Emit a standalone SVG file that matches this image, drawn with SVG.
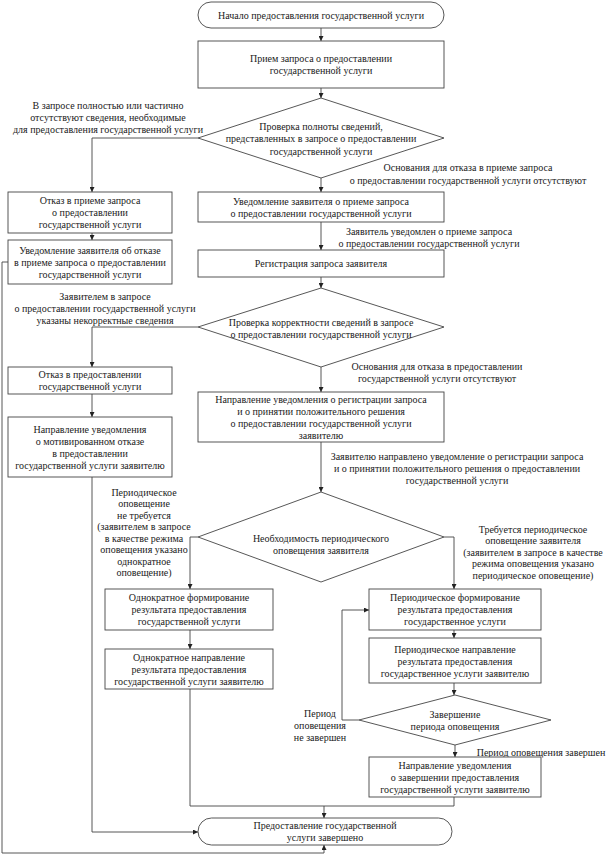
<svg xmlns="http://www.w3.org/2000/svg" width="609" height="854" viewBox="0 0 609 854">
<defs>
<marker id="ah" viewBox="0 0 6 6" refX="6" refY="3" markerWidth="5" markerHeight="5" orient="auto" markerUnits="userSpaceOnUse">
<path d="M0,0 L6,3 L0,6 z" fill="#222"/>
</marker>
<style>
.b{fill:#fff;stroke:#444;stroke-width:0.9}
.c{fill:none;stroke:#444;stroke-width:0.9}
.a{fill:none;stroke:#444;stroke-width:0.9;marker-end:url(#ah)}
text{font-family:"Liberation Serif","Times New Roman",serif;font-size:10px;fill:#1a1a1a;text-anchor:middle}
</style>
</defs>
<rect width="609" height="854" fill="#fff"/>
<g id="connectors">
<path class="a" d="M321,28 V41"/>
<path class="a" d="M321,88 V98"/>
<path class="a" d="M198,138 H92 V192"/>
<path class="a" d="M321,178 V192"/>
<path class="a" d="M92,233 V240"/>
<path class="a" d="M8,262 H2 V853 H324 V845"/>
<path class="a" d="M321,222 V250"/>
<path class="a" d="M321,277 V288"/>
<path class="a" d="M198,327 H92 V367"/>
<path class="a" d="M321,367 V392"/>
<path class="a" d="M92,394 V417"/>
<path class="a" d="M92,477 V832 H198"/>
<path class="a" d="M321,442 V492"/>
<path class="a" d="M198,537 H190 V589"/>
<path class="a" d="M444,537 H454 V589"/>
<path class="a" d="M190,630 V649"/>
<path class="c" d="M190,689 V806 H454 V797"/>
<path class="a" d="M324,806 V818"/>
<path class="a" d="M454,630 V638"/>
<path class="a" d="M454,683 V695"/>
<path class="a" d="M359,720 H342 V610 H369"/>
<path class="a" d="M455,745 V757"/>
</g>
<g id="labels">
<text x="108" y="108.5">В запросе полностью или частично</text>
<text x="108" y="120.5">отсутствуют сведения, необходимые</text>
<text x="108" y="132.5">для предоставления государственной услуги</text>
<text x="468" y="170.5">Основания для отказа в приеме запроса</text>
<text x="468" y="183.5">о предоставлении государственной услуги отсутствуют</text>
<text x="429" y="234.5">Заявитель уведомлен о приеме запроса</text>
<text x="429" y="246.5">о предоставлении государственной услуги</text>
<text x="105" y="300">Заявителем в запросе</text>
<text x="105" y="312">о предоставлении государственной услуги</text>
<text x="105" y="324">указаны некорректные сведения</text>
<text x="437" y="369.5">Основания для отказа в предоставлении</text>
<text x="437" y="381.5">государственной услуги отсутствуют</text>
<text x="457" y="459.5">Заявителю направлено уведомление о регистрации запроса</text>
<text x="457" y="471.5">и о принятии положительного решения о предоставлении</text>
<text x="457" y="483.5">государственной услуги</text>
<text x="144" y="495.5">Периодическое</text>
<text x="144" y="507">оповещение</text>
<text x="144" y="518.5">не требуется</text>
<text x="144" y="530">(заявителем в запросе</text>
<text x="144" y="541.5">в качестве режима</text>
<text x="144" y="553">оповещения указано</text>
<text x="144" y="564.5">однократное</text>
<text x="144" y="576">оповещение)</text>
<text x="533" y="532.5">Требуется периодическое</text>
<text x="533" y="544">оповещение заявителя</text>
<text x="533" y="555.5">(заявителем в запросе в качестве</text>
<text x="533" y="567">режима оповещения указано</text>
<text x="533" y="578.5">периодическое оповещение)</text>
<text x="320" y="716.5">Период</text>
<text x="320" y="728.5">оповещения</text>
<text x="320" y="740.5">не завершен</text>
<text x="541" y="755.5">Период оповещения завершен</text>
</g>
<g id="start">
<rect class="b" x="198" y="2" width="246" height="26" rx="13"/>
<text x="321" y="18.5">Начало предоставления государственной услуги</text>
</g>
<g id="receive">
<rect class="b" x="198" y="41" width="246" height="47"/>
<text x="321" y="62">Прием запроса о предоставлении</text>
<text x="321" y="74">государственной услуги</text>
</g>
<g id="check-completeness">
<polygon class="b" points="321,98 444,138 321,178 198,138"/>
<text x="321" y="129.5">Проверка полноты сведений,</text>
<text x="321" y="142">представленных в запросе о предоставлении</text>
<text x="321" y="154.5">государственной услуги</text>
</g>
<g id="refuse-receive">
<rect class="b" x="8" y="192" width="164" height="41"/>
<text x="90" y="204">Отказ в приеме запроса</text>
<text x="90" y="216">о предоставлении</text>
<text x="90" y="228">государственной услуги</text>
</g>
<g id="notify-refuse">
<rect class="b" x="8" y="240" width="164" height="44"/>
<text x="90" y="253.5">Уведомление заявителя об отказе</text>
<text x="90" y="265.5">в приеме запроса о предоставлении</text>
<text x="90" y="277.5">государственной услуги</text>
</g>
<g id="notify-receive">
<rect class="b" x="198" y="192" width="246" height="30"/>
<text x="321" y="204.5">Уведомление заявителя о приеме запроса</text>
<text x="321" y="216.5">о предоставлении государственной услуги</text>
</g>
<g id="register">
<rect class="b" x="198" y="250" width="246" height="27"/>
<text x="321" y="267">Регистрация запроса заявителя</text>
</g>
<g id="check-correctness">
<polygon class="b" points="321,288 444,327 321,367 198,327"/>
<text x="321" y="325.5">Проверка корректности сведений в запросе</text>
<text x="321" y="337.5">о предоставлении государственной услуги</text>
</g>
<g id="refuse">
<rect class="b" x="8" y="367" width="164" height="27"/>
<text x="90" y="378">Отказ в предоставлении</text>
<text x="90" y="390">государственной услуги</text>
</g>
<g id="notify-motivated">
<rect class="b" x="8" y="417" width="164" height="60"/>
<text x="90" y="432.5">Направление уведомления</text>
<text x="90" y="444.5">о мотивированном отказе</text>
<text x="90" y="456.5">в предоставлении</text>
<text x="90" y="468.5">государственной услуги заявителю</text>
</g>
<g id="notify-register">
<rect class="b" x="198" y="392" width="246" height="50"/>
<text x="321" y="402.5">Направление уведомления о регистрации запроса</text>
<text x="321" y="414.5">и о принятии положительного решения</text>
<text x="321" y="426.5">о предоставлении государственной услуги</text>
<text x="321" y="438.5">заявителю</text>
</g>
<g id="check-periodic">
<polygon class="b" points="321,492 444,537 321,582 198,537"/>
<text x="321" y="541.5">Необходимость периодического</text>
<text x="321" y="553.5">оповещения заявителя</text>
</g>
<g id="once-form">
<rect class="b" x="105" y="589" width="168" height="41"/>
<text x="189" y="601">Однократное формирование</text>
<text x="189" y="613">результата предоставления</text>
<text x="189" y="625">государственной услуги</text>
</g>
<g id="once-send">
<rect class="b" x="105" y="649" width="168" height="40"/>
<text x="189" y="660.5">Однократное направление</text>
<text x="189" y="672.5">результата предоставления</text>
<text x="189" y="684.5">государственной услуги заявителю</text>
</g>
<g id="periodic-form">
<rect class="b" x="369" y="589" width="172" height="41"/>
<text x="455" y="601">Периодическое формирование</text>
<text x="455" y="613">результата предоставления</text>
<text x="455" y="625">государственное услуги</text>
</g>
<g id="periodic-send">
<rect class="b" x="369" y="638" width="172" height="45"/>
<text x="455" y="652.5">Периодическое направление</text>
<text x="455" y="664.5">результата предоставления</text>
<text x="455" y="676.5">государственное услуги заявителю</text>
</g>
<g id="period-end">
<polygon class="b" points="455,695 551,720 455,745 359,720"/>
<text x="455" y="717.5">Завершение</text>
<text x="455" y="729.5">периода оповещения</text>
</g>
<g id="notify-finish">
<rect class="b" x="369" y="757" width="172" height="40"/>
<text x="455" y="768.5">Направление уведомления</text>
<text x="455" y="780.5">о завершении предоставления</text>
<text x="455" y="792.5">государственной услуги заявителю</text>
</g>
<g id="end">
<rect class="b" x="198" y="818" width="254" height="27" rx="13.5"/>
<text x="325" y="829">Предоставление государственной</text>
<text x="325" y="841">услуги завершено</text>
</g>
</svg>
